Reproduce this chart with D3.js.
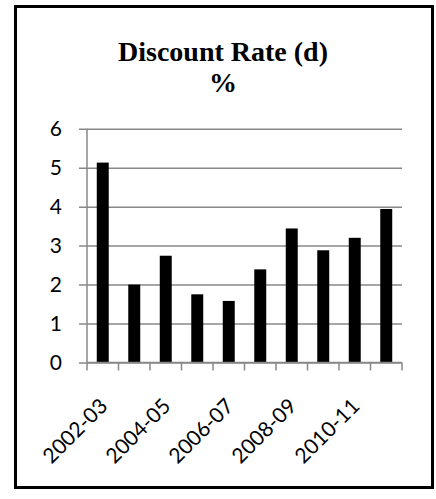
<!DOCTYPE html>
<html>
<head>
<meta charset="utf-8">
<script src="https://cdn.jsdelivr.net/npm/d3@7"></script>
<style>
  body { margin: 0; background: #fff; }
</style>
</head>
<body>
<div id="chart"></div>
<script>
const years = ["2002-03", "2003-04", "2004-05", "2005-06", "2006-07",
               "2007-08", "2008-09", "2009-10", "2010-11", "2011-12"];
const discountRate = [5.13, 2.0, 2.74, 1.75, 1.58, 2.39, 3.44, 2.88, 3.2, 3.94];
const yTicks = [0, 1, 2, 3, 4, 5, 6];
const titleLines = ["Discount Rate (d)", "%"];

const width = 436;
const height = 499;
const margin = { top: 128.7, right: 34, bottom: 136.5, left: 87 };
const gridColor = "#888";

const svg = d3.select("#chart")
  .append("svg")
  .attr("width", width)
  .attr("height", height);

// outer frame
svg.append("rect")
  .attr("x", 15.5)
  .attr("y", 6.5)
  .attr("width", 417)
  .attr("height", 481)
  .attr("fill", "none")
  .attr("stroke", "#000")
  .attr("stroke-width", 3);

// title
svg.append("g")
  .selectAll("text")
  .data(titleLines)
  .join("text")
  .attr("x", 223)
  .attr("y", (d, i) => 61 + i * 31)
  .attr("text-anchor", "middle")
  .attr("font-family", "'Liberation Serif', 'Times New Roman', serif")
  .attr("font-weight", "bold")
  .attr("font-size", "28px")
  .text(d => d);

const x = d3.scaleBand()
  .domain(years)
  .range([margin.left, width - margin.right])
  .paddingInner(0.62)
  .paddingOuter(0.31);

const y = d3.scaleLinear()
  .domain([0, 6])
  .range([height - margin.bottom, margin.top]);

// gridlines + y axis
const yAxis = svg.append("g")
  .attr("transform", `translate(${margin.left},0)`)
  .call(d3.axisLeft(y)
    .tickValues(yTicks)
    .tickSize(-(width - margin.right - margin.left))
    .tickPadding(0)
    .tickFormat(d3.format("d")));
yAxis.select(".domain").remove();
yAxis.selectAll(".tick line")
  .attr("x1", -8)
  .attr("stroke", gridColor)
  .attr("stroke-width", 1.5);
yAxis.selectAll(".tick text")
  .attr("x", -25)
  .attr("font-family", "Lato, 'Open Sans', sans-serif")
  .attr("font-size", "21px")
  .attr("fill", "#000");

// vertical axis line
svg.append("line")
  .attr("x1", margin.left).attr("x2", margin.left)
  .attr("y1", y(6)).attr("y2", y(0))
  .attr("stroke", gridColor)
  .attr("stroke-width", 1.5);

// bars
svg.append("g")
  .selectAll("rect")
  .data(discountRate)
  .join("rect")
  .attr("x", (d, i) => x(years[i]))
  .attr("y", d => y(d))
  .attr("width", x.bandwidth())
  .attr("height", d => y(0) - y(d))
  .attr("fill", "#000");

// x axis baseline and category ticks
const step = x.step();
svg.append("line")
  .attr("x1", margin.left).attr("x2", width - margin.right)
  .attr("y1", y(0)).attr("y2", y(0))
  .attr("stroke", gridColor)
  .attr("stroke-width", 1.5);
svg.append("g")
  .selectAll("line")
  .data(d3.range(years.length + 1))
  .join("line")
  .attr("x1", i => margin.left + i * step)
  .attr("x2", i => margin.left + i * step)
  .attr("y1", y(0))
  .attr("y2", y(0) + 8)
  .attr("stroke", gridColor)
  .attr("stroke-width", 1.5);

// rotated labels, every other year
svg.append("g")
  .selectAll("text")
  .data(years.filter((d, i) => i % 2 === 0))
  .join("text")
  .attr("transform", d => `translate(${x(d) + x.bandwidth() / 2 + 6},${y(0) + 45}) rotate(-45)`)
  .attr("text-anchor", "end")
  .attr("font-family", "Lato, 'Open Sans', sans-serif")
  .attr("font-size", "21px")
  .attr("fill", "#000")
  .text(d => d);
</script>
</body>
</html>
